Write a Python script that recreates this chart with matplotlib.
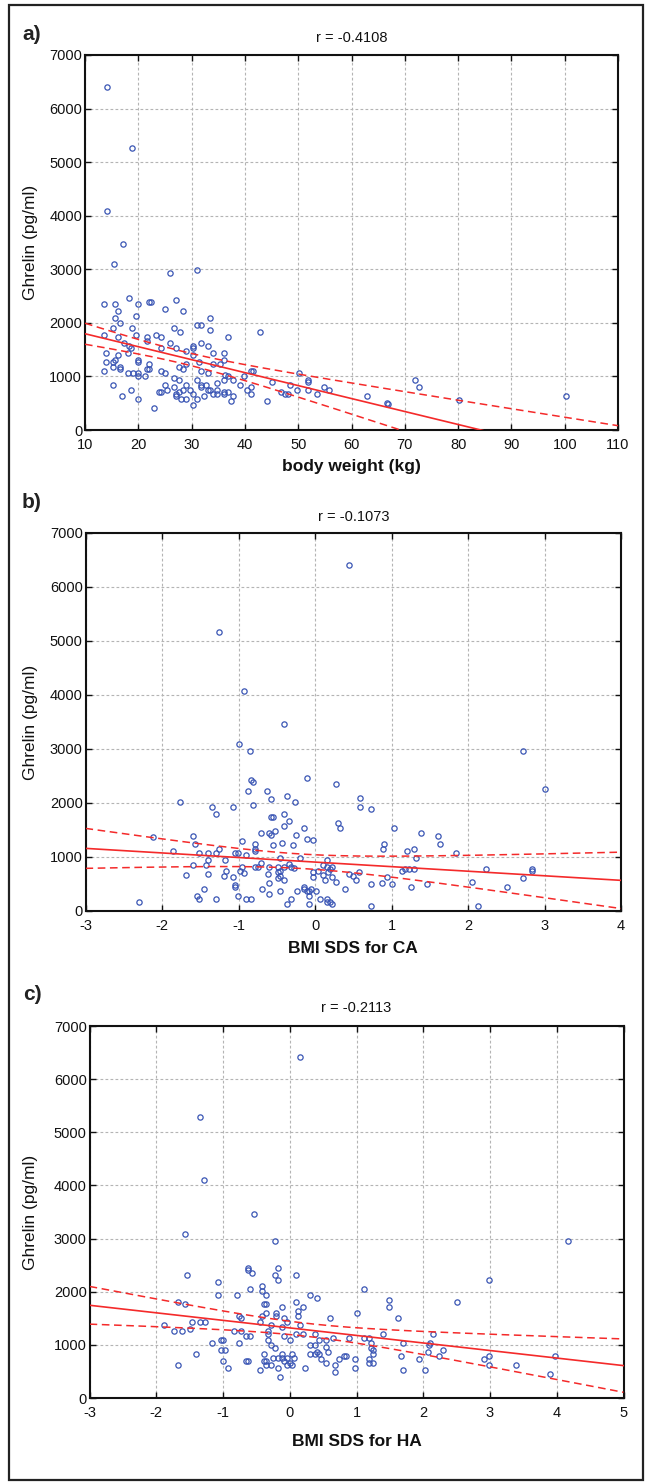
import numpy as np
import matplotlib
matplotlib.use("Agg")
import matplotlib.pyplot as plt
from matplotlib.patches import Rectangle

# ---------------- data ----------------
A_WEIGHT = [14.1, 18.9, 14.1, 17.2, 15.5, 25.9, 31.0, 13.5, 15.6, 18.2, 19.9, 16.1, 22.0, 22.4, 25.0, 27.1,
            28.4, 19.5, 15.6, 16.5, 33.5, 31.0, 31.8, 18.8, 15.2, 26.7, 33.5, 27.8, 42.9, 13.5, 19.5, 16.1,
            23.3, 24.2, 21.6, 21.6, 36.9, 17.4, 18.2, 18.7, 18.1, 25.9, 24.2, 27.1, 30.2, 30.2, 28.9, 31.8,
            33.1, 34.0, 36.1, 36.1, 30.2, 14.0, 16.1, 20.0, 20.0, 14.0, 15.2, 15.6, 15.2, 16.5, 16.5, 13.5,
            18.1, 19.0, 20.0, 20.0, 21.2, 21.6, 22.0, 22.0, 24.2, 25.0, 27.6, 28.4, 28.9, 31.4, 31.8, 33.1,
            34.0, 35.4, 36.9, 36.1, 37.8, 39.9, 41.1, 41.6, 15.2, 18.6, 16.9, 20.0, 22.9, 23.8, 24.2, 25.4,
            25.0, 26.7, 27.6, 26.7, 27.6, 27.1, 27.1, 28.1, 28.9, 28.4, 28.9, 29.7, 30.2, 30.2, 31.0, 31.0,
            31.8, 31.8, 32.3, 32.7, 33.1, 33.5, 34.0, 34.8, 34.8, 34.8, 36.1, 36.1, 36.9, 37.3, 37.8, 39.1,
            40.4, 41.2, 41.2, 44.2, 45.0, 46.7, 47.5, 48.0, 48.4, 49.8, 50.2, 51.9, 51.9, 51.9, 53.6, 54.8,
            55.7, 62.9, 66.7, 66.8, 72.0, 72.7, 80.1, 100.2, 36.3]
A_GHRELIN = [6400, 5260, 4080, 3480, 3100, 2940, 2980, 2346, 2346, 2472, 2346, 2214, 2390, 2390, 2258, 2428,
             2214, 2132, 2082, 2006, 2088, 1962, 1962, 1912, 1912, 1912, 1874, 1830, 1830, 1780, 1780, 1742,
             1780, 1742, 1742, 1660, 1742, 1616, 1572, 1528, 1440, 1616, 1528, 1528, 1572, 1528, 1484, 1616,
             1572, 1440, 1440, 1308, 1396, 1440, 1396, 1308, 1264, 1264, 1264, 1308, 1182, 1182, 1138, 1100,
             1056, 1056, 1056, 1012, 1012, 1138, 1226, 1138, 1100, 1056, 1182, 1138, 1226, 1270, 1100, 1056,
             1226, 1226, 1012, 931, 931, 1012, 1100, 1100, 843, 755, 629, 585, 415, 717, 717, 755,
             843, 969, 931, 799, 717, 673, 629, 585, 585, 755, 843, 755, 673, 459, 931, 585,
             843, 799, 629, 843, 755, 755, 673, 880, 755, 673, 717, 673, 717, 541, 629, 843,
             755, 799, 673, 541, 887, 717, 673, 673, 843, 755, 1056, 931, 887, 755, 673, 799,
             755, 635, 504, 490, 933, 803, 560, 635, 1020]

B_BMI_CA = [0.44, -1.25, -0.93, -0.41, -0.99, -0.85, 2.72, -0.11, -0.84, -0.81, 0.27, 3.01, -0.87, -0.63,
            -1.77, -0.57, -0.37, -0.26, -0.81, -1.34, -1.07, 0.59, 0.59, 0.73, -1.30, -0.58, -0.55, -0.40,
            -0.34, -0.40, 0.30, 0.33, -0.14, -0.52, -0.70, -0.60, -0.58, -0.25, -0.11, -0.02, 1.03, 1.38,
            1.61, 1.64, 1.84, -1.60, -1.57, -0.96, -0.78, -0.78, -0.78, -0.43, -0.29, -0.55, 0.90, 0.89,
            1.29, 1.20, -2.12, -1.86, -1.52, -1.40, -1.30, -1.25, -1.04, -1.01, -0.90, -1.40, -1.17, -0.46,
            -0.20, 0.16, 1.32, -1.60, -1.68, -1.42, -1.40, -1.19, -1.16, -1.07, -1.05, -1.05, -0.98, -0.96,
            -0.93, -0.78, -0.75, -0.70, -0.60, -0.61, -0.60, -0.49, -0.49, -0.46, -0.49, -0.46, -0.40, -0.34,
            -0.32, -0.28, -0.40, -0.02, -0.02, 0.04, 0.10, 0.16, 0.19, 0.22, 0.17, 0.10, 0.13, 0.22,
            0.27, 0.45, 0.50, 0.53, 0.57, 0.73, 0.88, 0.94, 1.00, 1.14, 1.17, 1.23, 1.29, 1.26,
            1.47, 2.05, 2.23, 2.51, 2.72, 2.84, 2.84, 2.13, 0.73, -2.30, -1.54, -1.51, -1.45, -1.30,
            -1.01, -0.90, -0.84, -0.69, -0.60, -0.46, -0.37, -0.32, -0.23, -0.14, -0.14, -0.11, -0.08, -0.05,
            -0.08, -0.08, 0.01, 0.07, 0.16, 0.19, 0.16, 0.22, 0.39]
B_GHRELIN = [6410, 5170, 4080, 3460, 3090, 2960, 2960, 2469, 2425, 2381, 2344, 2263, 2219, 2219,
             2025, 2069, 2138, 2025, 1969, 1925, 1925, 2088, 1925, 1881, 1794, 1750, 1750, 1794,
             1663, 1575, 1625, 1538, 1544, 1488, 1444, 1444, 1400, 1413, 1325, 1306, 1538, 1444,
             1394, 1244, 1075, 1394, 1244, 1288, 1244, 1156, 1113, 1263, 1219, 1219, 1244, 1156,
             1156, 1113, 1369, 1119, 1075, 1075, 1075, 1156, 1075, 1075, 1031, 944, 944, 988,
             988, 944, 988, 856, 669, 856, 694, 650, 738, 625, 481, 438, 744, 819,
             706, 819, 819, 888, 819, 694, 525, 813, 713, 750, 613, 650, 581, 863,
             813, 794, 813, 725, 625, 744, 850, 813, 769, 813, 719, 669, 581, 625,
             544, 694, 650, 581, 719, 494, 525, 625, 494, 750, 781, 781, 781, 450,
             494, 538, 781, 444, 613, 738, 781, 94, 94, 175, 275, 225, 406, 225,
             269, 225, 225, 406, 313, 363, 131, 225, 363, 450, 406, 363, 363, 406,
             269, 138, 363, 225, 225, 175, 175, 138, 406]

C_BMI_HA = [0.15, -1.35, -1.28, -0.53, -1.57, -0.22, 4.17, -1.54, -0.62, -0.62, -0.56, -0.18, -0.22, -0.18,
            0.10, 2.98, -1.07, -1.07, -0.59, -0.42, -0.42, -0.35, 1.11, -0.79, 0.30, 0.40, 2.50, 1.49,
            1.49, -1.67, -1.57, -0.38, -0.35, -0.11, 0.10, 0.13, 0.13, 0.20, 0.16, -0.35, -0.21, -0.21,
            -0.76, -0.73, 0.60, 1.01, 1.62, -0.08, -0.04, -0.42, -0.45, -0.28, -0.11, -1.88, -1.47, -1.34,
            -1.27, -1.74, -1.61, -1.50, -0.83, -0.73, -0.66, -0.59, -0.32, -0.32, -0.08, 0.00, 0.10, 0.20,
            0.37, 1.39, 2.14, -1.17, -1.03, -1.00, -0.76, -0.32, -0.28, -0.22, 0.43, 0.54, 0.64, 0.30,
            0.37, 0.88, 1.11, 1.18, 1.22, 1.25, 1.22, 1.69, 2.10, 2.09, -1.03, -0.97, -1.41, -0.39,
            -0.35, -0.39, -0.25, -0.18, -0.11, -0.11, -0.04, -0.08, 0.03, 0.06, 0.00, 0.03, -0.04, -0.66,
            -0.62, 0.30, 0.37, 0.40, 0.47, 0.44, 0.54, 0.57, 0.54, 0.74, 0.81, 0.84, 0.98, 0.98,
            1.18, 1.18, 1.25, 1.25, 1.66, 1.93, 2.07, 2.24, 2.30, -1.68, -1.00, -0.93, -0.45, -0.35,
            -0.28, -0.15, -0.18, 0.23, 0.67, 0.67, 1.69, 2.03, 2.91, 2.98, 2.98, 3.39, 3.90, 3.97]
C_GHRELIN = [6420, 5290, 4100, 3460, 3082, 2956, 2956, 2315, 2447, 2403, 2359, 2447, 2315, 2227,
             2315, 2227, 2189, 1931, 2057, 2101, 2013, 1931, 2057, 1931, 1931, 1887, 1805, 1849,
             1717, 1805, 1761, 1761, 1761, 1717, 1805, 1635, 1547, 1717, 1377, 1591, 1591, 1547,
             1547, 1503, 1503, 1591, 1503, 1503, 1421, 1547, 1421, 1377, 1333, 1377, 1421, 1421,
             1421, 1252, 1252, 1295, 1252, 1252, 1164, 1164, 1252, 1208, 1164, 1082, 1208, 1208,
             1208, 1208, 1208, 1038, 1082, 1082, 1038, 1082, 994, 950, 1082, 1082, 1126, 994,
             994, 1126, 1126, 1126, 1038, 912, 950, 1038, 1038, 994, 912, 912, 824, 824,
             704, 704, 748, 748, 824, 748, 748, 704, 830, 748, 660, 616, 616, 704,
             704, 830, 830, 874, 742, 830, 956, 874, 660, 742, 786, 786, 742, 572,
             742, 660, 660, 824, 786, 742, 874, 786, 912, 616, 704, 572, 535, 616,
             616, 403, 572, 572, 616, 491, 535, 535, 742, 786, 616, 616, 447, 786]

# regression line and 95% band:
# [intercept, slope, band centre x, band half-width at centre, band growth]
A_FIT = [2039, -24.2, 28.7, 114, 8.54]
B_FIT = [906, -84.6, -0.157, 133.6, 121.4]
C_FIT = [1319, -141.9, 0.25, 122.3, 102.5]

R_LABELS = ["r = -0.4108", "r = -0.1073", "r = -0.2113"]
PANEL_LABELS = ["a)", "b)", "c)"]
X_LABELS = ["body weight (kg)", "BMI SDS for CA", "BMI SDS for HA"]
Y_LABEL = "Ghrelin (pg/ml)"
A_XTICKS = list(range(10, 111, 10))
B_XTICKS = list(range(-3, 5))
C_XTICKS = list(range(-3, 6))
Y_TICKS = list(range(0, 7001, 1000))

# ---------------- figure ----------------
W, H = 645, 1482
plt.rcParams['font.family'] = ['Liberation Sans', 'DejaVu Sans']
plt.rcParams['axes.unicode_minus'] = False
fig = plt.figure(figsize=(W / 100, H / 100), dpi=100)


def fx(px):
    return px / W


def fy(py):
    return 1 - py / H


# outer frame
fig.patches.append(Rectangle((fx(9), fy(1480)), fx(643) - fx(9), fy(5) - fy(1480),
                             transform=fig.transFigure, fill=False, lw=1.6, ec='#222222'))

panels = [
    dict(box=(85, 618, 55, 430), x=A_WEIGHT, y=A_GHRELIN, fit=A_FIT, xt=A_XTICKS, xlim=(10, 110),
         title_y=38, xl_y=467, lab_y=35),
    dict(box=(85.5, 621, 533, 911), x=B_BMI_CA, y=B_GHRELIN, fit=B_FIT, xt=B_XTICKS, xlim=(-3, 4),
         title_y=517, xl_y=948, lab_y=503),
    dict(box=(89.6, 623.5, 1026, 1398), x=C_BMI_HA, y=C_GHRELIN, fit=C_FIT, xt=C_XTICKS, xlim=(-3, 5),
         title_y=1008, xl_y=1442, lab_y=995),
]

red = '#f42a2a'
blue = '#3a55b4'

for i, p in enumerate(panels):
    l, r, t, b = p['box']
    ax = fig.add_axes([fx(l), fy(b), fx(r) - fx(l), fy(t) - fy(b)])
    ax.set_xlim(*p['xlim'])
    ax.set_ylim(0, 7000)
    ax.set_xticks(p['xt'])
    ax.set_yticks(Y_TICKS)
    ax.grid(True, color='#b4b4b4', lw=0.8, ls=(0, (2.5, 2)))
    ax.set_axisbelow(True)
    ax.tick_params(direction='in', length=4, width=1, top=True, right=True,
                   labelsize=10.5, colors='#111111')
    ax.tick_params(axis='x', pad=6)
    ax.tick_params(axis='y', pad=2)
    for s in ax.spines.values():
        s.set_linewidth(1.5)
        s.set_color('#111111')

    ax.plot(p['x'], p['y'], 'o', ms=3.8, mfc='none', mec=blue, mew=0.9, zorder=3)

    b0, b1, xc, h0, k = p['fit']
    xs = np.linspace(p['xlim'][0], p['xlim'][1], 200)
    yh = b0 + b1 * xs
    hw = np.sqrt(h0 ** 2 + (k * (xs - xc)) ** 2)
    ax.plot(xs, yh, color=red, lw=1.2, zorder=4)
    ax.plot(xs, yh + hw, color=red, lw=1.1, ls=(0, (5, 3)), zorder=4)
    ax.plot(xs, yh - hw, color=red, lw=1.1, ls=(0, (5, 3)), zorder=4)

    cx = (l + r) / 2
    fig.text(fx(cx), fy(p['title_y']), R_LABELS[i], ha='center', va='center', fontsize=10.5, color='#111111')
    fig.text(fx(cx), fy(p['xl_y']), X_LABELS[i], ha='center', va='center', fontsize=12.5,
             fontweight='bold', color='#111111')
    fig.text(fx(31), fy((t + b) / 2), Y_LABEL, ha='center', va='center', rotation=90, fontsize=12.5,
             color='#111111')
    fig.text(fx(32), fy(p['lab_y']), PANEL_LABELS[i], ha='center', va='center', fontsize=15,
             fontweight='bold', color='#222222')

fig.savefig('out.png', dpi=100)
